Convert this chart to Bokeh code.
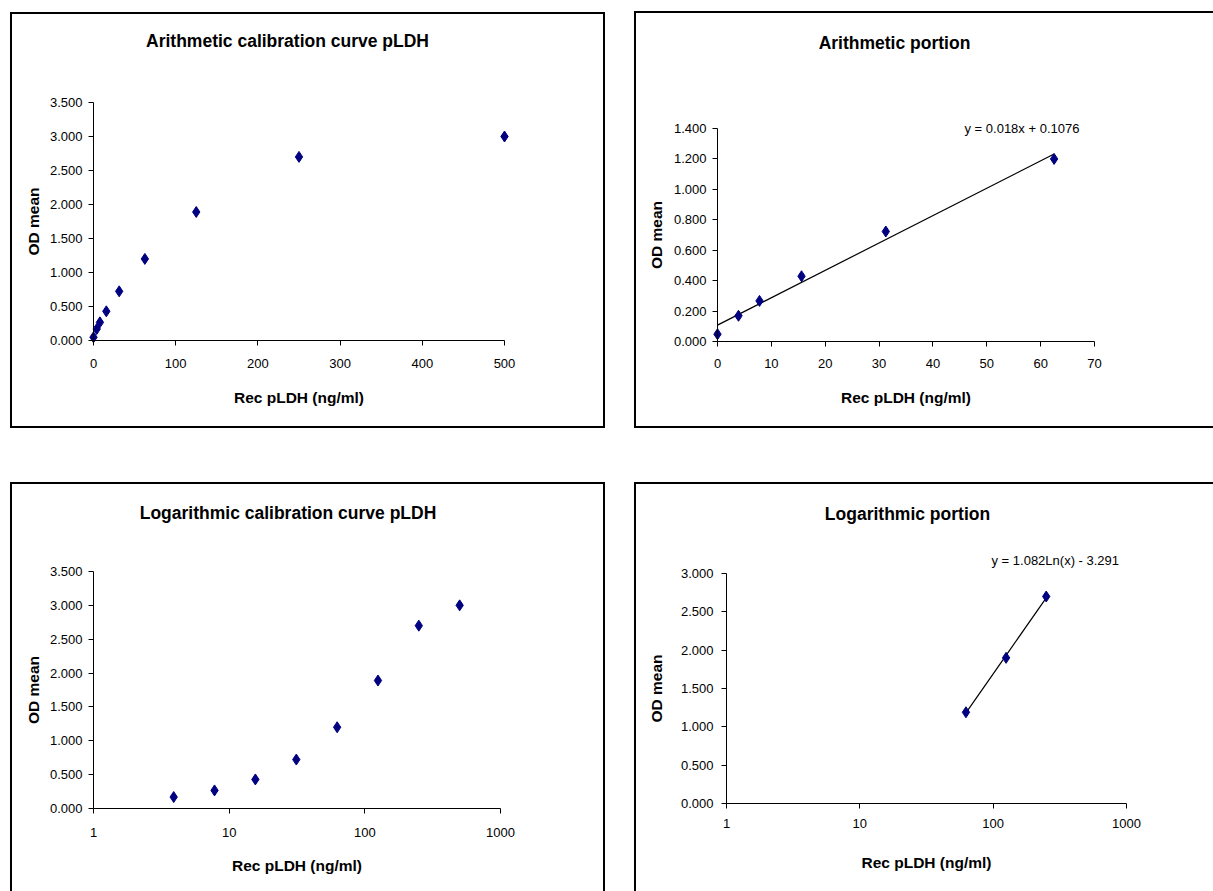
from bokeh.plotting import figure
from bokeh.layouts import column, row
from bokeh.models import Range1d, FixedTicker, PrintfTickFormatter, Label
from bokeh.embed import file_html
from bokeh.resources import INLINE
import numpy as np
import math

# ---------------- data ----------------
conc_all = [0, 3.9, 7.8, 15.6, 31.25, 62.5, 125, 250, 500]
od_all = [0.048, 0.169, 0.267, 0.429, 0.723, 1.20, 1.89, 2.70, 3.00]

conc_arith = [0, 3.9, 7.8, 15.6, 31.25, 62.5]
od_arith = [0.048, 0.169, 0.267, 0.429, 0.723, 1.20]

conc_log = [3.9, 7.8, 15.6, 31.25, 62.5, 125, 250, 500]
od_log = [0.169, 0.267, 0.429, 0.723, 1.20, 1.89, 2.70, 3.00]

conc_logp = [62.5, 125, 250]
od_logp = [1.19, 1.90, 2.70]

lin_slope, lin_intercept = 0.018, 0.1076
log_coef, log_const = 1.082, -3.291

titles = ["Arithmetic calibration curve pLDH", "Arithmetic portion",
          "Logarithmic calibration curve pLDH", "Logarithmic portion"]
x_label = "Rec pLDH (ng/ml)"
y_label = "OD mean"
eq_lin = "y = 0.018x + 0.1076"
eq_log = "y = 1.082Ln(x) - 3.291"

lin_xticks = [0, 100, 200, 300, 400, 500]
portion_xticks = [0, 10, 20, 30, 40, 50, 60, 70]
log_xticks = [1, 10, 100, 1000]
od_ticks_35 = [0, 0.5, 1.0, 1.5, 2.0, 2.5, 3.0, 3.5]
od_ticks_14 = [0, 0.2, 0.4, 0.6, 0.8, 1.0, 1.2, 1.4]
od_ticks_30 = [0, 0.5, 1.0, 1.5, 2.0, 2.5, 3.0]

FONT = "Liberation Sans"
NAVY = "#000080"


class Mapper:
    """Maps page pixels to data values for a figure whose frame fills its box."""

    def __init__(self, box, xa, ya, log=False):
        self.left, self.top, self.w, self.h = box
        self.log = log
        (xv0, xp0), (xv1, xp1) = xa
        (yv0, yp0), (yv1, yp1) = ya
        f = (lambda v: math.log10(v)) if log else (lambda v: v)
        self.xs = (xp1 - xp0) / (f(xv1) - f(xv0))
        self.xf0, self.xp0 = f(xv0), xp0
        self.ys = (yp0 - yp1) / (yv1 - yv0)
        self.yv0, self.yp0 = yv0, yp0

    def x(self, px):
        v = self.xf0 + (px - self.xp0) / self.xs
        return 10 ** v if self.log else v

    def y(self, py):
        return self.yv0 + (self.yp0 - py) / self.ys

    def x_range(self):
        return Range1d(self.x(self.left), self.x(self.left + self.w))

    def y_range(self):
        return Range1d(self.y(self.top + self.h), self.y(self.top))


def make_panel(m, margin, title, title_xy, xticks, yticks, xbounds,
               ybounds, x_type="linear", y_label_standoff=5,
               y_tick_standoff=6, x_tick_standoff=13, x_label_standoff=18):
    styles = {"outline": "2px solid #000", "outline-offset": "0px"}
    p = figure(width=m.w, height=m.h, x_axis_type=x_type,
               x_range=m.x_range(), y_range=m.y_range(),
               output_backend="svg", toolbar_location=None,
               min_border_left=0, min_border_right=0,
               min_border_top=0, min_border_bottom=0,
               margin=margin, styles=styles,
               background_fill_color="white", border_fill_color="white")
    p.outline_line_color = None
    p.xgrid.visible = False
    p.ygrid.visible = False
    for ax in p.axis:
        ax.major_label_text_font = FONT
        ax.major_label_text_font_size = "13px"
        ax.major_label_text_color = "#000"
        ax.axis_label_text_font = FONT
        ax.axis_label_text_font_size = "15.5px"
        ax.axis_label_text_font_style = "bold"
        ax.axis_label_text_color = "#000"
        ax.axis_line_color = "#000"
        ax.major_tick_line_color = "#000"
        ax.major_tick_out = 5
        ax.major_tick_in = 0
        ax.minor_tick_line_color = None
    p.xaxis.axis_label = x_label
    p.yaxis.axis_label = y_label
    p.xaxis.ticker = FixedTicker(ticks=xticks)
    p.yaxis.ticker = FixedTicker(ticks=yticks)
    p.yaxis.formatter = PrintfTickFormatter(format="%.3f")
    p.xaxis.formatter = PrintfTickFormatter(format="%d")
    p.xaxis.bounds = xbounds
    p.yaxis.bounds = ybounds
    p.xaxis.fixed_location = ybounds[0]
    p.yaxis.fixed_location = xbounds[0]
    p.xaxis.major_label_standoff = x_tick_standoff
    p.xaxis.axis_label_standoff = x_label_standoff
    p.yaxis.major_label_standoff = y_tick_standoff
    p.yaxis.axis_label_standoff = y_label_standoff
    p.add_layout(Label(x=m.x(title_xy[0]), y=m.y(title_xy[1]), text=title,
                       text_font=FONT, text_font_size="17.5px",
                       text_font_style="bold", text_color="#000",
                       text_align="center", text_baseline="middle"))
    return p


def eq_label(m, px, py, text):
    return Label(x=m.x(px), y=m.y(py), text=text, text_font=FONT,
                 text_font_size="13px", text_color="#000",
                 text_baseline="middle", text_align="left")


# Panel 1: arithmetic calibration curve
m1 = Mapper((12, 14, 591, 412), ((0, 93), (500, 504)), ((0, 340), (3.5, 102)))
p1 = make_panel(m1, (14, 0, 0, 12), titles[0], (287, 40),
                lin_xticks, od_ticks_35, (0, 500), (0, 3.5),
                x_tick_standoff=13, x_label_standoff=18)
p1.scatter(conc_all, od_all, marker="diamond", size=11,
           fill_color=NAVY, line_color=NAVY)

# Panel 2: arithmetic portion with linear fit
m2 = Mapper((636, 13, 577, 413), ((0, 717), (70, 1094)), ((0, 341), (1.4, 128)))
p2 = make_panel(m2, (13, 0, 0, 33), titles[1],
                (894, 42), portion_xticks, od_ticks_14, (0, 70), (0, 1.4),
                x_tick_standoff=12, x_label_standoff=18, y_label_standoff=6)
fit_x = np.array([min(conc_arith), max(conc_arith)])
p2.line(fit_x, lin_slope * fit_x + lin_intercept, line_color="#000",
        line_width=1.2)
p2.scatter(conc_arith, od_arith, marker="diamond", size=11,
           fill_color=NAVY, line_color=NAVY)
p2.add_layout(eq_label(m2, 964, 128, eq_lin))

# Panel 3: logarithmic calibration curve
m3 = Mapper((12, 484, 591, 407), ((1, 93), (1000, 500)), ((0, 808), (3.5, 571)),
            log=True)
p3 = make_panel(m3, (58, 0, 0, 12), titles[2],
                (287.5, 512), log_xticks, od_ticks_35, (1, 1000), (0, 3.5),
                x_type="log", x_tick_standoff=14, x_label_standoff=17)
p3.scatter(conc_log, od_log, marker="diamond", size=11,
           fill_color=NAVY, line_color=NAVY)

# Panel 4: logarithmic portion with log fit
m4 = Mapper((636, 484, 577, 407), ((1, 726), (1000, 1126)), ((0, 803), (3.0, 573)),
            log=True)
p4 = make_panel(m4, (58, 0, 0, 33), titles[3],
                (907, 513), log_xticks, od_ticks_30, (1, 1000), (0, 3.0),
                x_type="log", x_tick_standoff=10, x_label_standoff=23,
                y_tick_standoff=8, y_label_standoff=13)
lx = np.array(conc_logp, dtype=float)
p4.line(lx, log_coef * np.log(lx) + log_const, line_color="#000",
        line_width=1.2)
p4.scatter(conc_logp, od_logp, marker="diamond", size=11,
           fill_color=NAVY, line_color=NAVY)
p4.add_layout(eq_label(m4, 991, 560, eq_log))

layout = column(row(p1, p2), row(p3, p4))
open("out.html", "w").write(file_html(layout, INLINE))
